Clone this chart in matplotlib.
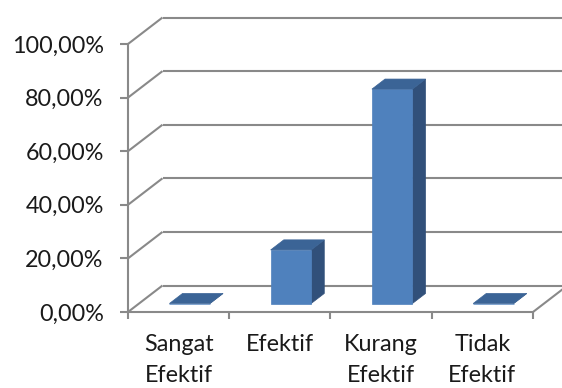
import matplotlib
matplotlib.use("Agg")
import matplotlib.pyplot as plt
from matplotlib.patches import Polygon

# data
kategori = ["Sangat\nEfektif", "Efektif", "Kurang\nEfektif", "Tidak\nEfektif"]
persen = [0.0, 20.0, 80.0, 0.0]
ytick = [0, 20, 40, 60, 80, 100]

plt.rcParams['font.family'] = ['Lato', 'DejaVu Sans']

fig = plt.figure(figsize=(5.62, 3.88), dpi=100)
ax = fig.add_axes([128 / 562, 76 / 388, 405 / 562, 268 / 388])
ax.set_xlim(0, len(kategori))
ax.set_ylim(0, 100)

# geser kedalaman (efek 3D) dalam satuan data
DX = 34.5 / 101.25
DY = 26.5 / 268 * 100
abu = '#898989'
lw = 1.5


def proj(x, y, d):
    return (x + d * DX, y + d * DY)


def garis(p, q):
    ax.plot([p[0], q[0]], [p[1], q[1]], color=abu, lw=lw, clip_on=False,
            solid_capstyle='butt', zorder=1)


# dinding belakang dan dinding kiri
for v in ytick:
    garis(proj(0, v, 1), proj(6, v, 1))
    garis(proj(0, v, 0), proj(0, v, 1))

# lantai
garis(proj(len(kategori), 0, 0), proj(len(kategori), 0, 1))

# batang 3D
d0, d1 = 0.32, 0.70
lebar = 0.40
for i, v in enumerate(persen):
    x0 = i + 0.5 - lebar / 2
    x1 = i + 0.5 + lebar / 2
    depan = [proj(x0, 0, d0), proj(x1, 0, d0), proj(x1, v, d0), proj(x0, v, d0)]
    samping = [proj(x1, 0, d0), proj(x1, 0, d1), proj(x1, v, d1), proj(x1, v, d0)]
    atas = [proj(x0, v, d0), proj(x1, v, d0), proj(x1, v, d1), proj(x0, v, d1)]
    for pts, warna in [(samping, '#31507A'), (depan, '#4F81BD'), (atas, '#3B6496')]:
        ax.add_patch(Polygon(pts, closed=True, facecolor=warna, edgecolor=warna,
                             lw=0.5, clip_on=False, zorder=3))

# sumbu
for s in ['top', 'right']:
    ax.spines[s].set_visible(False)
for s in ['left', 'bottom']:
    ax.spines[s].set_color(abu)
    ax.spines[s].set_linewidth(lw)
ax.patch.set_alpha(0)

ax.set_yticks(ytick)
ax.set_yticklabels([f"{v:.2f}%".replace('.', ',') for v in ytick])
ax.set_xticks(range(len(kategori) + 1))
ax.set_xticklabels([])
ax.set_xticks([i + 0.5 for i in range(len(kategori))], minor=True)
ax.set_xticklabels(kategori, minor=True, linespacing=1.6)
ax.tick_params(axis='y', which='major', length=5.5, width=lw, color=abu,
               labelsize=16.8, pad=12, labelcolor='#1a1a1a')
ax.tick_params(axis='x', which='major', length=5, width=lw, color=abu)
ax.tick_params(axis='x', which='minor', length=0, labelsize=16.8, pad=15.5,
               labelcolor='#1a1a1a')

fig.savefig("out.png", dpi=100)
